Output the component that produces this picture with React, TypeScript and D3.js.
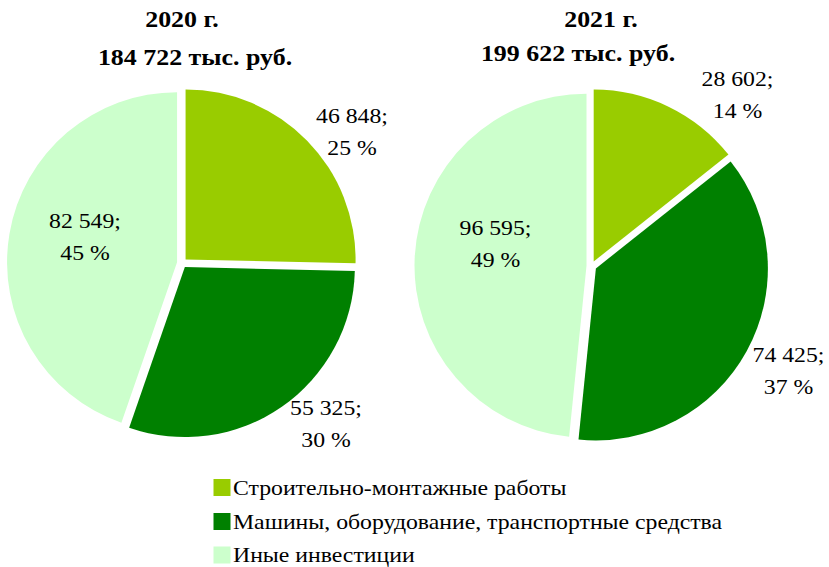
import React from 'react';
import * as d3 from 'd3';

// data
const categories = [
  'Строительно-монтажные работы',
  'Машины, оборудование, транспортные средства',
  'Иные инвестиции',
];
const colors = ['#99cc00', '#008000', '#ccffcc'];
const years = ['2020 г.', '2021 г.'];
const totals = ['184 722 тыс. руб.', '199 622 тыс. руб.'];
const values2020 = [46848, 55325, 82549];
const values2021 = [28602, 74425, 96595];
const pct2020 = [25, 30, 45];
const pct2021 = [14, 37, 49];

// layout
const W = 829;
const H = 567;
const serif = 'Liberation Serif';
const explode = 5;
const stretch = 1.08; // the source picture is a bit wider than tall

const pies = [
  {
    values: values2020, pct: pct2020, cx: 182, cy: 263, r: 170,
    title: [{ x: 182, y: 27 }, { x: 195, y: 65 }],
    labels: [[170, -140], [144, 152], [-97, -35]],
  },
  {
    values: values2021, pct: pct2021, cx: 591.5, cy: 266, r: 172,
    title: [{ x: 601, y: 27 }, { x: 578, y: 61 }],
    labels: [[146, -180], [197, 96], [-96, -31]],
  },
];

const fmt = (v: number) => d3.format(',')(v).replace(/,/g, ' ');

const Label = ({ x, y, anchor = 'middle', style, children }: any) => (
  <g transform={`translate(${x},${y}) scale(${stretch},1)`}>
    <text x={0} y={0} textAnchor={anchor} fill="#000" style={style}>
      {children}
    </text>
  </g>
);

const PieChart = ({ p, i }: { p: any; i: number }) => {
  const pie = d3.pie<number>().sort(null).value((d) => d);
  const arcs = pie(p.values);
  const arc = d3.arc<d3.PieArcDatum<number>>().innerRadius(0).outerRadius(p.r);
  const titleStyle = { fontFamily: serif, fontWeight: 'bold' as const, fontSize: '24px' };
  const labelStyle = { fontFamily: serif, fontSize: '22px' };
  return (
    <g>
      <Label x={p.title[0].x} y={p.title[0].y} style={titleStyle}>{years[i]}</Label>
      <Label x={p.title[1].x} y={p.title[1].y} style={titleStyle}>{totals[i]}</Label>
      <g transform={`translate(${p.cx},${p.cy})`}>
        {arcs.map((a, k) => {
          const mid = (a.startAngle + a.endAngle) / 2;
          const dx = Math.sin(mid) * explode;
          const dy = -Math.cos(mid) * explode;
          return (
            <path key={k} d={arc(a) || ''} fill={colors[k]} transform={`translate(${dx},${dy})`} />
          );
        })}
        {arcs.map((a, k) => {
          const [lx, ly] = p.labels[k];
          return (
            <g key={'l' + k}>
              <Label x={lx} y={ly} style={labelStyle}>{fmt(a.data) + ';'}</Label>
              <Label x={lx} y={ly + 31.5} style={labelStyle}>{p.pct[k] + ' %'}</Label>
            </g>
          );
        })}
      </g>
    </g>
  );
};

export default function App() {
  const legendY = [479, 513, 546.5];
  return (
    <svg width={W} height={H} style={{ position: 'absolute', left: 0, top: 0, background: '#fff' }}>
      <rect width={W} height={H} fill="#fff" />
      {pies.map((p, i) => (
        <PieChart key={i} p={p} i={i} />
      ))}
      {categories.map((c, k) => (
        <g key={c}>
          <rect x={213.5} y={legendY[k]} width={17} height={17} fill={colors[k]} />
          <Label x={233} y={legendY[k] + 15.5} anchor="start" style={{ fontFamily: serif, fontSize: '22px' }}>
            {c}
          </Label>
        </g>
      ))}
    </svg>
  );
}
